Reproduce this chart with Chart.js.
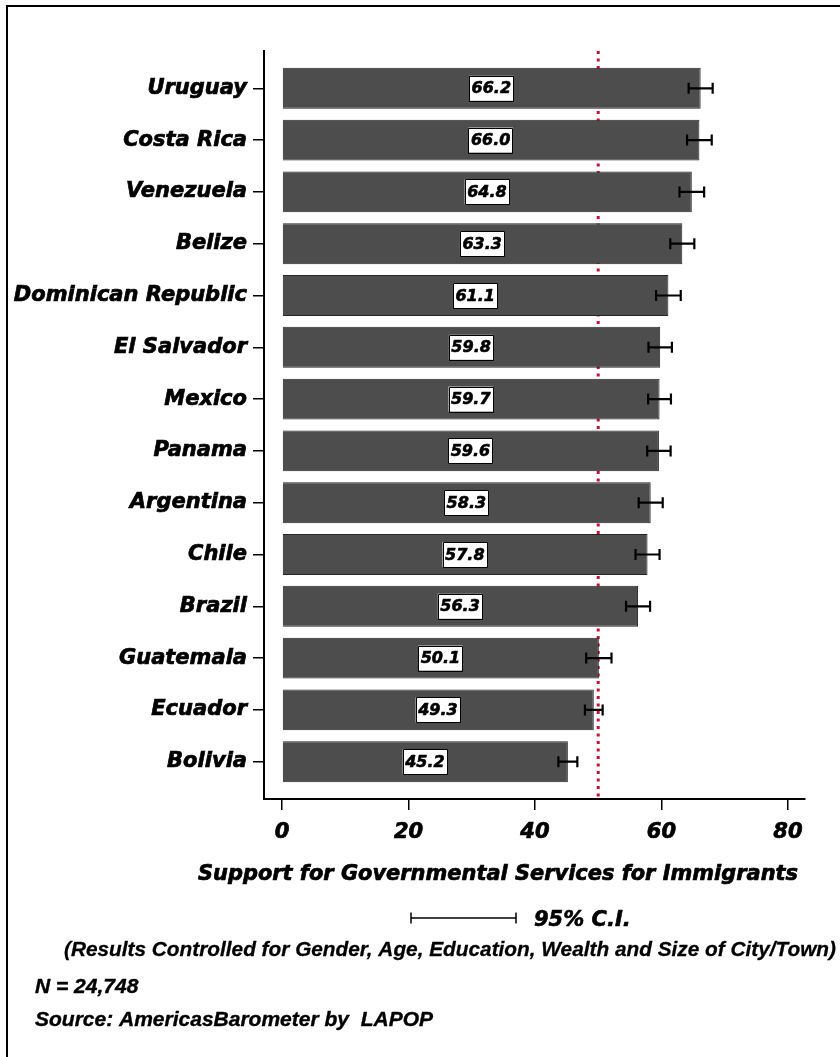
<!DOCTYPE html>
<html>
<head>
<meta charset="utf-8">
<script src="https://cdn.jsdelivr.net/npm/chart.js@4.4.0/dist/chart.umd.min.js"></script>
<style>
  html, body { margin: 0; padding: 0; background: #fff; overflow: hidden; }
  #wrap { position: relative; width: 840px; height: 1057px; }
  #frame { position: absolute; left: 6px; top: 5px; width: 900px; height: 1100px; border: 2px solid #000; pointer-events: none; }
  canvas { position: absolute; left: 0; top: 0; }
</style>
</head>
<body>
<div id="wrap">
  <canvas id="chart" width="840" height="1057"></canvas>
  <div id="frame"></div>
</div>
<script>
// Country means (0-100 scale) with half-widths of their 95% confidence intervals
const countries = ['Uruguay', 'Costa Rica', 'Venezuela', 'Belize', 'Dominican Republic', 'El Salvador',
  'Mexico', 'Panama', 'Argentina', 'Chile', 'Brazil', 'Guatemala', 'Ecuador', 'Bolivia'];
const means = [66.2, 66.0, 64.8, 63.3, 61.1, 59.8, 59.7, 59.6, 58.3, 57.8, 56.3, 50.1, 49.3, 45.2];
const ciHalf = [1.9, 1.95, 1.95, 1.9, 1.95, 1.85, 1.8, 1.85, 1.9, 1.9, 1.9, 2.0, 1.4, 1.5];
const xTicks = [0, 20, 40, 60, 80];
const referenceValue = 50;

const axisTitle = 'Support for Governmental Services for Immigrants';
const legendLabel = '95% C.I.';
const noteControls = '(Results Controlled for Gender, Age, Education, Wealth and Size of City/Town)';
const noteN = 'N = 24,748';
const noteSource = 'Source: AmericasBarometer by  LAPOP';

const heavy = 'DejaVu Sans';
const plain = '"Liberation Sans", Arial, sans-serif';

// Filled text with a thin outline so it reads as a heavy face
function boldText(ctx, text, x, y, stroke, maxWidth) {
  ctx.lineWidth = stroke;
  ctx.lineJoin = 'round';
  if (maxWidth) {
    ctx.strokeText(text, x, y, maxWidth);
    ctx.fillText(text, x, y, maxWidth);
  } else {
    ctx.strokeText(text, x, y);
    ctx.fillText(text, x, y);
  }
}

// Dotted reference line at the midpoint, drawn beneath the bars
const referenceLine = {
  id: 'referenceLine',
  beforeDatasetsDraw(chart) {
    const { ctx, chartArea, scales } = chart;
    const x = scales.x.getPixelForValue(referenceValue);
    ctx.save();
    ctx.strokeStyle = 'rgb(196, 18, 60)';
    ctx.lineWidth = 3;
    ctx.setLineDash([3, 4.5]);
    ctx.beginPath();
    ctx.moveTo(x, chartArea.top);
    ctx.lineTo(x, chartArea.bottom);
    ctx.stroke();
    ctx.restore();
  }
};

// Confidence interval whiskers and boxed value labels
const barDecorations = {
  id: 'barDecorations',
  afterDatasetsDraw(chart) {
    const { ctx, scales } = chart;
    const xs = scales.x, ys = scales.y;
    ctx.save();
    means.forEach((m, i) => {
      const y = ys.getPixelForValue(i);
      const lo = xs.getPixelForValue(m - ciHalf[i]);
      const hi = xs.getPixelForValue(m + ciHalf[i]);
      ctx.strokeStyle = '#000';
      ctx.lineWidth = 2.2;
      ctx.beginPath();
      ctx.moveTo(lo, y); ctx.lineTo(hi, y);
      ctx.moveTo(lo, y - 5.5); ctx.lineTo(lo, y + 5.5);
      ctx.moveTo(hi, y - 5.5); ctx.lineTo(hi, y + 5.5);
      ctx.stroke();

      const label = m.toFixed(1);
      const cx = xs.getPixelForValue(m / 2);
      ctx.font = 'italic bold 16px ' + heavy;
      const w = ctx.measureText(label).width + 5;
      const h = 25;
      ctx.fillStyle = '#fff';
      ctx.fillRect(cx - w / 2, y - h / 2, w, h);
      ctx.lineWidth = 1;
      ctx.strokeRect(Math.round(cx - w / 2) + 0.5, Math.round(y - h / 2) + 0.5, Math.round(w), h);
      ctx.fillStyle = '#000';
      ctx.textAlign = 'center';
      ctx.textBaseline = 'middle';
      boldText(ctx, label, cx, y + 1, 0.6);
    });
    ctx.restore();
  }
};

// Axis title, CI key and notes beneath the plot
const notes = {
  id: 'notes',
  afterDraw(chart) {
    const { ctx } = chart;
    ctx.save();
    ctx.fillStyle = '#000';
    ctx.strokeStyle = '#000';
    ctx.textBaseline = 'alphabetic';

    ctx.font = 'italic bold 21px ' + heavy;
    ctx.textAlign = 'center';
    boldText(ctx, axisTitle, 498, 880, 0.7, 600);

    ctx.lineWidth = 1.5;
    ctx.beginPath();
    ctx.moveTo(411, 918); ctx.lineTo(516, 918);
    ctx.moveTo(411, 912.5); ctx.lineTo(411, 923.5);
    ctx.moveTo(516, 912.5); ctx.lineTo(516, 923.5);
    ctx.stroke();
    ctx.textAlign = 'left';
    ctx.font = 'italic bold 21px ' + heavy;
    boldText(ctx, legendLabel, 534, 926, 0.6);

    ctx.font = 'italic bold 21px ' + plain;
    ctx.textAlign = 'right';
    boldText(ctx, noteControls, 836, 956, 0.3, 772);

    ctx.textAlign = 'left';
    ctx.font = 'italic bold 21px ' + plain;
    boldText(ctx, noteN, 35, 993, 0.4);
    boldText(ctx, noteSource, 35, 1026, 0.4);
    ctx.restore();
  }
};

new Chart(document.getElementById('chart'), {
  type: 'bar',
  data: {
    datasets: [{
      data: means.map((v, i) => ({ x: v, y: i })),
      backgroundColor: '#4d4d4d',
      borderColor: '#262626',
      borderWidth: 1,
      barPercentage: 0.79,
      categoryPercentage: 1
    }]
  },
  options: {
    indexAxis: 'y',
    responsive: false,
    animation: false,
    layout: { padding: { top: 51, right: 35, left: 0, bottom: 0 } },
    plugins: { legend: { display: false }, tooltip: { enabled: false } },
    scales: {
      x: {
        type: 'linear',
        min: -2.85,
        max: 82.7,
        offset: false,
        afterBuildTicks: s => { s.ticks = xTicks.map(v => ({ value: v })); },
        afterFit: s => { s.height = 258; },
        border: { display: true, color: '#000', width: 2 },
        grid: { display: true, offset: false, drawOnChartArea: false, drawTicks: true, tickLength: 11, color: '#000', lineWidth: 1.5 },
        ticks: {
          autoSkip: false,
          padding: 10,
          color: '#000',
          textStrokeColor: '#000',
          textStrokeWidth: 0.7,
          font: { family: heavy, size: 21, weight: 'bold', style: 'italic' }
        }
      },
      y: {
        type: 'linear',
        reverse: true,
        offset: false,
        min: -0.72,
        max: 13.72,
        afterBuildTicks: s => { s.ticks = countries.map((_, i) => ({ value: i })); },
        afterFit: s => { s.width = 264; },
        border: { display: true, color: '#000', width: 2 },
        grid: { display: true, offset: false, drawOnChartArea: false, drawTicks: true, tickLength: 11, color: '#000', lineWidth: 1.5 },
        ticks: {
          autoSkip: false,
          padding: 6,
          color: '#000',
          textStrokeColor: '#000',
          textStrokeWidth: 0.7,
          callback: v => countries[v],
          font: { family: heavy, size: 21, weight: 'bold', style: 'italic' }
        }
      }
    }
  },
  plugins: [referenceLine, barDecorations, notes]
});
</script>
</body>
</html>
